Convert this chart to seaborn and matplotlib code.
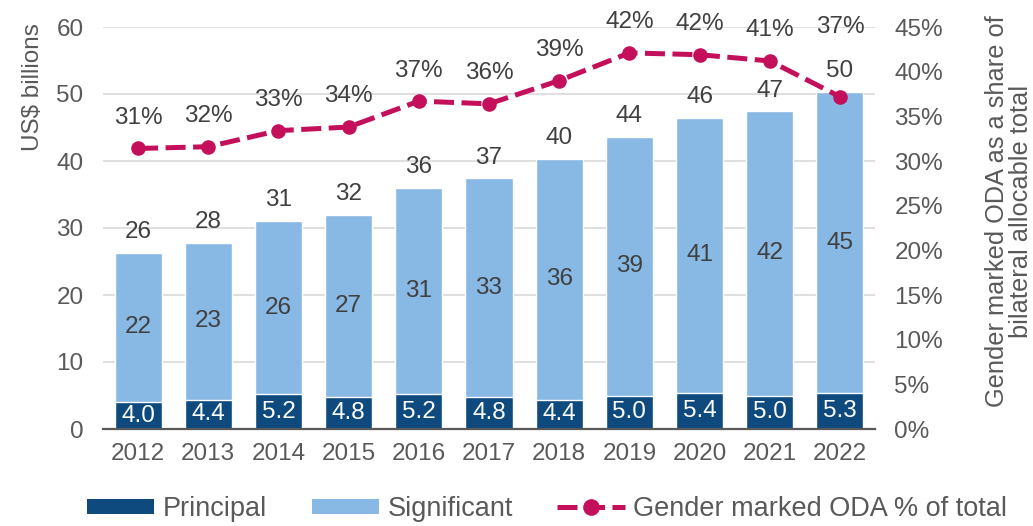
import numpy as np
import pandas as pd
import matplotlib
matplotlib.use("Agg")
import matplotlib.pyplot as plt
import seaborn as sns
from matplotlib.patches import Patch
from matplotlib.lines import Line2D
from matplotlib.ticker import FuncFormatter

# ---- data ----
years = ["2012", "2013", "2014", "2015", "2016", "2017", "2018", "2019", "2020", "2021", "2022"]
principal = [4.0, 4.4, 5.2, 4.8, 5.2, 4.8, 4.4, 5.0, 5.4, 5.0, 5.3]
significant = [22.3, 23.4, 25.8, 27.1, 30.8, 32.6, 35.9, 38.6, 41.0, 42.4, 45.0]
share_pct = [31.4, 31.6, 33.4, 33.8, 36.7, 36.4, 39.0, 42.1, 41.9, 41.2, 37.2]
series_names = ["Principal", "Significant", "Gender marked ODA % of total"]

totals = [p + s for p, s in zip(principal, significant)]
df = pd.DataFrame({"year": years, "principal": principal,
                   "significant": significant, "total": totals,
                   "share": share_pct})

# ---- style ----
sns.set_theme(style="white")
plt.rcParams["font.family"] = ["Liberation Sans", "DejaVu Sans"]

C_PRIN = "#0E4A7E"
C_SIG = "#88B8E4"
C_LINE = "#C4105A"
C_TICK = "#595959"
C_LAB = "#404040"
FS = 17.5

fig = plt.figure(figsize=(10.33, 5.26), dpi=100)
ax = fig.add_axes([103 / 1033, 1 - 429 / 526, (875 - 103) / 1033, (429 - 27) / 526])

sns.barplot(data=df, x="year", y="total", color=C_SIG, saturation=1,
            width=0.67, ax=ax, zorder=2)
sns.barplot(data=df, x="year", y="principal", color=C_PRIN, saturation=1,
            width=0.67, ax=ax, zorder=3)

ax.set_ylim(0, 60)
ax.set_yticks(range(0, 61, 10))
ax.set_xlim(-0.5, len(years) - 0.5)
ax.grid(axis="y", color="#D9D9D9", lw=1.2, zorder=0)
ax.set_axisbelow(True)
for s in ["top", "right", "left"]:
    ax.spines[s].set_visible(False)
ax.spines["bottom"].set_color(C_TICK)
ax.spines["bottom"].set_linewidth(1.6)
ax.spines["bottom"].set_zorder(5)
ax.tick_params(axis="x", length=0, labelsize=FS, colors=C_TICK, pad=10)
ax.tick_params(axis="y", length=0, labelsize=FS, colors=C_TICK, pad=14)
ax.set_xlabel("")
ax.set_ylabel("US$ billions", fontsize=FS, color=C_TICK)
ax.yaxis.set_label_coords(-0.076, 0.851)

# bar labels
for i, (p, s, t) in enumerate(zip(principal, significant, totals)):
    ax.text(i, p / 2, f"{p:.1f}", ha="center", va="center", fontsize=FS,
            color="white", zorder=6)
    ax.text(i, p + s / 2, f"{round(s):d}", ha="center", va="center",
            fontsize=FS, color=C_LAB, zorder=6)
    ax.annotate(f"{round(t):d}", (i, t), xytext=(0, 15), textcoords="offset points",
                ha="center", va="center", fontsize=FS, color=C_LAB, zorder=6)

# line on secondary axis
ax2 = ax.twinx()
sns.lineplot(x=np.arange(len(years)), y=share_pct, ax=ax2, color=C_LINE,
             lw=3.6, marker="o", markersize=10.5, markeredgewidth=0,
             dashes=False, zorder=7)
ax2.lines[0].set_linestyle((0, (4, 1.5)))
ax2.set_ylim(0, 45)
ax2.set_yticks(range(0, 46, 5))
ax2.yaxis.set_major_formatter(FuncFormatter(lambda v, _: f"{v:.0f}%"))
for s in ["top", "right", "left", "bottom"]:
    ax2.spines[s].set_visible(False)
ax2.tick_params(axis="y", length=0, labelsize=FS, colors=C_TICK, pad=14)
ax2.set_ylabel("Gender marked ODA as a share of\nbilateral allocable total",
               fontsize=18.3, color=C_TICK, rotation=90, linespacing=1.0)
ax2.yaxis.set_label_coords(1.142, 0.542)
ax2.set_xlim(-0.5, len(years) - 0.5)

for i, v in enumerate(share_pct):
    off = 50 if i == len(years) - 1 else 22
    ax2.annotate(f"{round(v):d}%", (i, v), xytext=(0, off), textcoords="offset points",
                 ha="center", va="center", fontsize=FS, color=C_LAB, zorder=8)

# legend
handles = [Patch(facecolor=C_PRIN, edgecolor="none"),
           Patch(facecolor=C_SIG, edgecolor="none"),
           Line2D([0], [0], color=C_LINE, lw=3.6, linestyle=(0, (4, 1.5)),
                  marker="o", markersize=12, markeredgewidth=0)]
leg = fig.legend(handles, series_names, loc="center", ncol=3,
                 bbox_to_anchor=(547 / 1033, 1 - 509 / 526), frameon=False,
                 fontsize=19.5, handlelength=2.5, handleheight=0.5,
                 columnspacing=1.65, handletextpad=0.3, borderaxespad=0)
for t in leg.get_texts():
    t.set_color(C_TICK)

fig.savefig("out.png", dpi=100)
